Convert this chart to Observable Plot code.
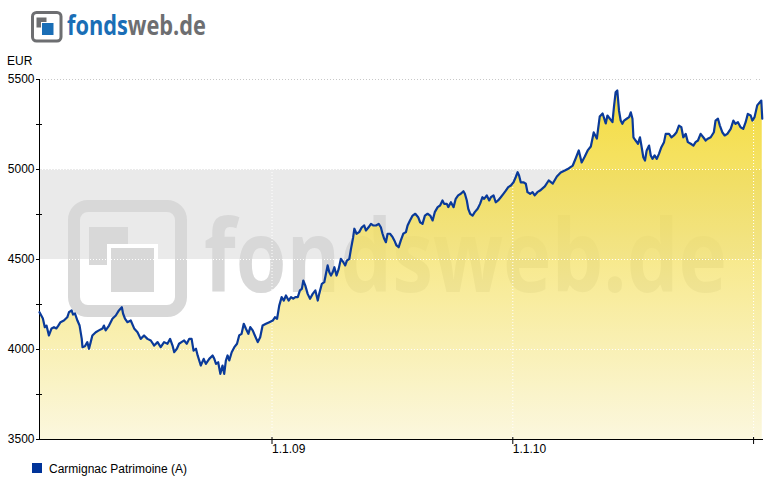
<!DOCTYPE html>
<html><head><meta charset="utf-8">
<script src="https://cdn.jsdelivr.net/npm/d3@7"></script>
<script src="https://cdn.jsdelivr.net/npm/@observablehq/plot@0.6"></script>
<style>
html,body{margin:0;padding:0;background:#fff;}
#chart{width:775px;height:480px;}
</style></head><body><div id="chart"></div>
<script>
// ---- data ----
const seriesName = "Carmignac Patrimoine (A)";
const unitLabel = "EUR";
const yTicks = [3500, 4000, 4500, 5000, 5500];
const yMinorTicks = [3750, 4250, 4750, 5250];
const yGrid = [4000, 4500, 5000];
const xTickYears = [2009, 2010, 2011];
const xTickLabels = ["1.1.09", "1.1.10", ""];
const band = [4500, 5000];
const domainYears = [2008.037, 2011.037];

// decimal years
const t = [
 2008.037,2008.051,2008.059,2008.066,2008.076,2008.087,2008.097,2008.107,2008.115,2008.124,2008.138,2008.152,2008.159,2008.170,2008.176,2008.184,2008.194,2008.203,2008.212,2008.215,2008.225,2008.235,2008.242,2008.249,2008.256,2008.270,2008.283,2008.298,2008.304,2008.311,2008.325,2008.339,2008.353,2008.366,2008.378,2008.383,2008.391,2008.401,2008.415,2008.429,2008.443,2008.456,2008.470,2008.484,2008.498,2008.512,2008.526,2008.539,2008.553,
 2008.567,2008.578,2008.588,2008.595,2008.606,2008.615,2008.625,2008.636,2008.647,2008.657,2008.667,2008.675,2008.685,2008.692,2008.705,2008.717,2008.726,2008.740,2008.754,2008.761,2008.768,2008.777,2008.786,2008.795,2008.802,2008.809,2008.816,2008.823,2008.833,2008.844,2008.855,2008.864,2008.874,2008.883,2008.892,2008.902,2008.910,2008.920,2008.929,2008.941,2008.951,2008.961,2008.975,2008.989,2009.003,2009.012,2009.021,2009.030,2009.040,2009.049,2009.058,
 2009.069,2009.079,2009.088,2009.097,2009.107,2009.116,2009.124,2009.130,2009.138,2009.148,2009.158,2009.169,2009.180,2009.190,2009.196,2009.207,2009.217,2009.224,2009.231,2009.238,2009.245,2009.252,2009.259,2009.268,2009.277,2009.286,2009.296,2009.304,2009.311,2009.321,2009.328,2009.337,2009.342,2009.351,2009.362,2009.373,2009.383,2009.390,2009.401,2009.411,2009.420,2009.432,2009.443,2009.452,2009.459,2009.466,2009.473,2009.480,2009.490,2009.501,2009.508,2009.517,2009.526,2009.535,2009.545,2009.556,2009.563,2009.573,2009.584,2009.595,
 2009.607,2009.615,2009.625,2009.635,2009.646,2009.657,2009.667,2009.676,2009.688,2009.698,2009.708,2009.715,2009.726,2009.732,2009.743,2009.754,2009.763,2009.773,2009.784,2009.795,2009.801,2009.809,2009.815,2009.823,2009.833,2009.842,2009.854,2009.864,2009.874,2009.881,2009.892,2009.902,2009.909,2009.920,2009.929,2009.939,2009.950,2009.961,2009.971,2009.981,2009.992,2010.003,2010.012,2010.020,2010.026,2010.033,2010.044,2010.054,2010.061,2010.072,2010.082,2010.091,2010.102,2010.113,
 2010.133,2010.149,2010.166,2010.183,2010.199,2010.216,2010.232,2010.249,2010.261,2010.274,2010.286,2010.299,2010.311,2010.324,2010.336,2010.349,2010.361,2010.373,
 2010.386,2010.393,2010.414,2010.420,2010.427,2010.434,2010.441,2010.448,2010.455,2010.462,2010.473,2010.483,2010.490,2010.497,2010.501,2010.510,2010.520,2010.528,2010.534,2010.542,2010.549,2010.556,2010.566,2010.573,2010.580,2010.589,2010.598,2010.607,2010.617,2010.628,2010.635,2010.649,2010.659,2010.669,2010.680,2010.690,2010.700,2010.708,2010.718,2010.727,2010.739,2010.750,2010.759,2010.769,2010.780,2010.791,2010.801,2010.810,2010.822,2010.835,2010.842,2010.852,2010.860,2010.870,2010.880,2010.891,2010.905,2010.916,2010.925,2010.935,2010.946,2010.957,2010.967,2010.976,2010.988,2010.995,2011.004,2011.015,2011.026,2011.032,2011.036
];
// fund price in EUR
const v = [
 4207,4172,4124,4133,4078,4117,4124,4117,4133,4152,4161,4179,4207,4217,4194,4200,4161,4133,4059,4013,4018,4041,4004,4041,4078,4096,4106,4117,4133,4106,4133,4171,4189,4217,4235,4200,4172,4152,4161,4117,4096,4059,4078,4059,4050,4022,4041,4013,4041,
 4032,4059,4022,3985,4004,4032,4041,4050,4032,4059,4059,3994,4004,3967,3911,3948,3920,3948,3967,3948,3920,3929,3865,3911,3865,3939,3967,3939,3985,4013,4032,4078,4087,4143,4115,4087,4124,4106,4078,4041,4068,4133,4143,4152,4161,4179,4171,4244,4291,4272,4300,
 4272,4291,4282,4291,4291,4328,4337,4383,4356,4309,4282,4309,4328,4272,4309,4365,4374,4421,4467,4429,4411,4429,4457,4411,4448,4504,4485,4467,4494,4504,4559,4624,4671,4643,4652,4679,4689,4661,4679,4698,4689,4689,4698,4679,4643,4615,4596,4643,4643,4624,4606,4578,4568,4606,4643,4652,4689,4717,4744,4754,
 4735,4707,4698,4744,4754,4744,4717,4763,4791,4800,4828,4809,4809,4791,4818,4791,4837,4856,4865,4879,4865,4828,4782,4754,4744,4763,4782,4809,4846,4837,4856,4828,4846,4856,4818,4828,4846,4865,4883,4902,4911,4929,4957,4985,4967,4929,4929,4921,4874,4865,4874,4856,4874,4883,
 4906,4939,4922,4961,4983,4994,5006,5022,5061,5106,5039,5072,5106,5128,5206,5172,5294,5311,
 5256,5300,5263,5346,5429,5439,5328,5272,5254,5272,5282,5291,5318,5282,5179,5161,5143,5179,5133,5068,5050,5106,5133,5078,5059,5078,5059,5087,5124,5152,5198,5198,5179,5189,5207,5244,5235,5179,5198,5152,5143,5133,5152,5161,5198,5179,5161,5171,5179,5207,5272,5282,5244,5207,5189,5198,5226,5272,5254,5263,5235,5226,5263,5309,5300,5272,5291,5356,5374,5383,5282
];

// ---- build ----
function toDate(ty) {
  const y = Math.floor(ty);
  const s = Date.UTC(y, 0, 1), e = Date.UTC(y + 1, 0, 1);
  return new Date(s + (ty - y) * (e - s));
}
const n = Math.min(t.length, v.length);
const data = d3.range(n).map(i => ({date: toDate(t[i]), value: v[i]}));
const xDomain = domainYears.map(toDate);
const xTicks = xTickYears.map(y => new Date(Date.UTC(y, 0, 1)));

const W = 775, H = 480, ML = 39, MR = 13, MT = 79, MB = 41;
const frameW = W - ML - MR;
const frameH = H - MT - MB;
const lineColor = "#0a3a9a";

const plot = Plot.plot({
  width: W, height: H,
  marginLeft: ML, marginRight: MR, marginTop: MT, marginBottom: MB,
  style: {fontFamily: "'Liberation Sans', Arial, sans-serif", fontSize: "12px", background: "white", color: "black"},
  x: {type: "utc", domain: xDomain, axis: null},
  y: {domain: [yTicks[0], yTicks[yTicks.length - 1]], axis: null},
  marks: [
    Plot.rect([band], {x1: xDomain[0], x2: xDomain[1], y1: d => d[0], y2: d => d[1], fill: "#eaeaea"}),
    Plot.areaY(data, {x: "date", y1: yTicks[0], y2: "value", fill: "url(#fillGrad)", fillOpacity: 0.78}),
    Plot.ruleY(yGrid, {stroke: "white", strokeDasharray: "1,2"}),
    Plot.ruleY([yTicks[yTicks.length - 1]], {stroke: "#c8c8c8", strokeDasharray: "1,2"}),
    Plot.ruleX(xTicks, {stroke: "white", strokeDasharray: "1,2"}),
    Plot.ruleX([xDomain[0]], {stroke: "black"}),
    Plot.ruleY([yTicks[0]], {stroke: "black", insetRight: -1}),
    Plot.tickY(yTicks, {y: d => d, stroke: "black", insetLeft: -3, insetRight: frameW}),
    Plot.tickY(yMinorTicks, {y: d => d, stroke: "black", insetLeft: -3, insetRight: frameW - 3}),
    Plot.tickX(xTicks, {x: d => d, stroke: "black", insetTop: frameH - 2, insetBottom: -5}),
    Plot.text(yTicks, {y: d => d, frameAnchor: "left", textAnchor: "end", dx: -5, text: d => String(d), fontSize: 12, fill: "black"}),
    Plot.text(xTicks, {x: d => d, frameAnchor: "bottom", textAnchor: "start", lineAnchor: "top", dy: 5, text: (d, i) => xTickLabels[i], fontSize: 12, fill: "black"}),
    Plot.lineY(data, {x: "date", y: "value", stroke: lineColor, strokeWidth: 2.2, strokeLinejoin: "round"})
  ]
});

const svg = d3.select(plot);
// gradient for the area fill
const defs = svg.insert("defs", ":first-child");
const grad = defs.append("linearGradient").attr("id", "fillGrad")
  .attr("gradientUnits", "userSpaceOnUse")
  .attr("x1", 0).attr("x2", 0).attr("y1", MT).attr("y2", H - MB);
grad.append("stop").attr("offset", "0%").attr("stop-color", "rgb(240,209,5)");
grad.append("stop").attr("offset", "100%").attr("stop-color", "rgb(250,245,213)");

// watermark (behind the semi-transparent area)
let areaNode = svg.select("g[aria-label='area']").node();
if (!areaNode) areaNode = svg.select("path[fill='url(#fillGrad)']").node();
const wm = svg.insert("g", () => areaNode).attr("fill", "#d8d8d8");
wm.append("rect").attr("x", 74).attr("y", 206).attr("width", 107).attr("height", 105).attr("rx", 14)
  .attr("fill", "none").attr("stroke", "#d8d8d8").attr("stroke-width", 12);
wm.append("rect").attr("x", 89).attr("y", 227).attr("width", 39).attr("height", 38);
wm.append("rect").attr("x", 109).attr("y", 246).attr("width", 47).attr("height", 48)
  .attr("stroke", "white").attr("stroke-width", 4);
wm.append("text").attr("x", 204).attr("y", 292).attr("text-anchor", "start")
  .attr("font-family", "'Open Sans', 'DejaVu Sans', sans-serif").attr("font-weight", 700)
  .attr("font-size", 100).attr("textLength", 523).attr("lengthAdjust", "spacingAndGlyphs")
  .text("fondsweb.de");

// logo
const logo = svg.append("g");
logo.append("rect").attr("x", 32.5).attr("y", 12.5).attr("width", 28.5).attr("height", 28.5).attr("rx", 4)
  .attr("fill", "white").attr("stroke", "#6d6e71").attr("stroke-width", 3);
logo.append("rect").attr("x", 36.5).attr("y", 17.5).attr("width", 10).attr("height", 10).attr("fill", "#6d6e71");
logo.append("rect").attr("x", 41.5).attr("y", 22.5).attr("width", 12.5).attr("height", 13)
  .attr("fill", "#1a6eb6").attr("stroke", "white").attr("stroke-width", 1);
const lt = logo.append("text").attr("x", 67).attr("y", 35).attr("text-anchor", "start")
  .attr("font-family", "'Open Sans', 'DejaVu Sans', sans-serif").attr("font-weight", 700)
  .attr("font-size", 26).attr("textLength", 139).attr("lengthAdjust", "spacingAndGlyphs");
lt.append("tspan").attr("fill", "#1a6eb6").text("fonds");
lt.append("tspan").attr("fill", "#6d6e71").text("web.de");

// unit label
svg.append("text").attr("x", 7).attr("y", 65).attr("text-anchor", "start")
  .attr("font-size", 12).attr("fill", "black").text(unitLabel);

// legend
svg.append("rect").attr("x", 32).attr("y", 463).attr("width", 10).attr("height", 10).attr("fill", "#003399");
svg.append("text").attr("x", 49).attr("y", 473).attr("text-anchor", "start")
  .attr("font-size", 12).attr("fill", "black").text(seriesName);

document.getElementById("chart").appendChild(plot);
</script>
</body></html>
